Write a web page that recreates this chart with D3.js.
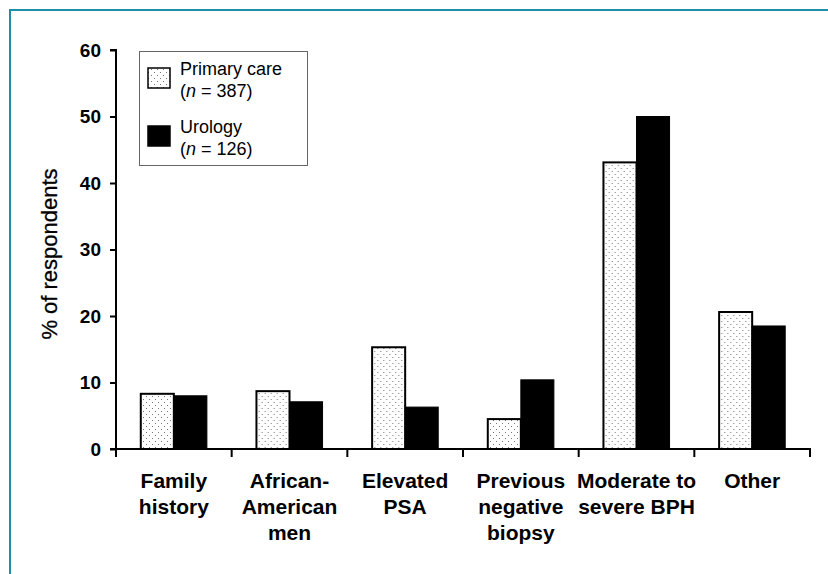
<!DOCTYPE html>
<meta charset="utf-8">
<style>
body { margin: 0; background: #fff; }
text { font-family: "Liberation Sans", Arial, sans-serif; fill: #000; }
.tick-lbl { font-size: 19px; font-weight: bold; }
.cat-lbl { font-size: 21px; font-weight: bold; }
.leg { font-size: 18px; }
</style>
<body>
<script src="https://d3js.org/d3.v7.min.js"></script>
<script>

// data
var categories = [
  ["Family", "history"],
  ["African-", "American", "men"],
  ["Elevated", "PSA"],
  ["Previous", "negative", "biopsy"],
  ["Moderate to", "severe BPH"],
  ["Other"]
];
var primaryCare = [8.3, 8.7, 15.3, 4.5, 43.1, 20.6];
var urology = [8.0, 7.1, 6.3, 10.4, 50.0, 18.5];
var yTicks = [0, 10, 20, 30, 40, 50, 60];
var seriesNames = ["Primary care", "Urology"];
var seriesN = [387, 126];

var W = 828, H = 574;
var svg = d3.select("body").append("svg")
    .attr("width", W)
    .attr("height", H);

// dotted fill for primary care
var defs = svg.append("defs");
var pat = defs.append("pattern")
    .attr("id", "dots")
    .attr("width", 6).attr("height", 6)
    .attr("patternUnits", "userSpaceOnUse");
pat.append("rect").attr("width", 6).attr("height", 6).attr("fill", "#fff");
pat.append("rect").attr("x", 0).attr("y", 0).attr("width", 1).attr("height", 1).attr("fill", "#777");
pat.append("rect").attr("x", 3).attr("y", 3).attr("width", 1).attr("height", 1).attr("fill", "#777");

// frame (top and left teal rule)
svg.append("path")
    .attr("d", "M10," + H + "V10H" + W)
    .attr("fill", "none")
    .attr("stroke", "#1f8ea8")
    .attr("stroke-width", 2);

var plotL = 116, plotR = 810, plotT = 50, plotB = 449;

var x = d3.scaleBand().domain(d3.range(categories.length)).range([plotL, plotR]);
var xSub = d3.scaleBand().domain([0, 1]).range([0, x.bandwidth()]).paddingOuter(0.75);
var y = d3.scaleLinear().domain([0, 60]).range([plotB, plotT]);

// bars
var groups = svg.selectAll("g.cat")
  .data(d3.range(categories.length))
  .enter().append("g")
    .attr("class", "cat")
    .attr("transform", function(i) { return "translate(" + x(i) + ",0)"; });

groups.append("rect")
    .attr("x", xSub(0))
    .attr("y", function(i) { return y(primaryCare[i]); })
    .attr("width", xSub.bandwidth())
    .attr("height", function(i) { return y(0) - y(primaryCare[i]); })
    .attr("fill", "url(#dots)")
    .attr("stroke", "#000")
    .attr("stroke-width", 2);

groups.append("rect")
    .attr("x", xSub(1))
    .attr("y", function(i) { return y(urology[i]); })
    .attr("width", xSub.bandwidth())
    .attr("height", function(i) { return y(0) - y(urology[i]); })
    .attr("fill", "#000")
    .attr("stroke", "#000")
    .attr("stroke-width", 1);

// y axis
var yAxis = svg.append("g")
    .attr("transform", "translate(" + plotL + ",0)")
    .call(d3.axisLeft(y).tickValues(yTicks).tickSize(6).tickPadding(9));
yAxis.select(".domain").attr("d", "M0," + plotB + "V" + plotT + "H-6").attr("stroke-width", 2);
yAxis.selectAll(".tick line").attr("stroke-width", 2);
yAxis.selectAll(".tick text").attr("class", "tick-lbl");
yAxis.attr("font-family", null).attr("font-size", null);

// x axis with ticks at category boundaries
var bounds = x.domain().map(function(i) { return x(i); }).concat([plotR]);
svg.append("line")
    .attr("x1", plotL - 6).attr("x2", plotR + 1)
    .attr("y1", plotB).attr("y2", plotB)
    .attr("stroke", "#000").attr("stroke-width", 2);
svg.selectAll("line.xtick")
  .data(bounds)
  .enter().append("line")
    .attr("class", "xtick")
    .attr("x1", function(d) { return d; }).attr("x2", function(d) { return d; })
    .attr("y1", plotB).attr("y2", plotB + 8)
    .attr("stroke", "#000").attr("stroke-width", 2);

// category labels
var lbl = svg.selectAll("text.cat-lbl")
  .data(categories)
  .enter().append("text")
    .attr("class", "cat-lbl")
    .attr("text-anchor", "middle");
lbl.selectAll("tspan")
  .data(function(d, i) { return d.map(function(s) { return {s: s, i: i}; }); })
  .enter().append("tspan")
    .attr("x", function(d) { return x(d.i) + x.bandwidth() / 2; })
    .attr("y", function(d, j) { return 488 + j * 26; })
    .text(function(d) { return d.s; });

// y title
svg.append("text")
    .attr("transform", "translate(57,254) rotate(-90)")
    .attr("text-anchor", "middle")
    .style("font-size", "22px")
    .style("stroke", "#000")
    .style("stroke-width", 0.3)
    .text("% of respondents");

// legend
var leg = svg.append("g").attr("transform", "translate(139,51)");
leg.append("rect")
    .attr("x", 0.5).attr("y", 0.5)
    .attr("width", 168).attr("height", 114)
    .attr("fill", "#fff").attr("stroke", "#666").attr("stroke-width", 1);
var legItems = leg.selectAll("g.item")
  .data(seriesNames)
  .enter().append("g")
    .attr("class", "item")
    .attr("transform", function(d, i) { return "translate(0," + (i * 58) + ")"; });
legItems.append("rect")
    .attr("x", 9).attr("y", 17)
    .attr("width", 22).attr("height", 20)
    .attr("fill", function(d, i) { return i === 0 ? "url(#dots)" : "#000"; })
    .attr("stroke", "#000").attr("stroke-width", 1.5);
legItems.append("text")
    .attr("class", "leg")
    .attr("x", 41).attr("y", 24)
    .text(function(d) { return d; });
var nText = legItems.append("text")
    .attr("class", "leg")
    .attr("x", 41).attr("y", 46);
nText.append("tspan").text("(");
nText.append("tspan").style("font-style", "italic").text("n");
nText.append("tspan").text(function(d, i) { return " = " + seriesN[i] + ")"; });

</script>
</body>
